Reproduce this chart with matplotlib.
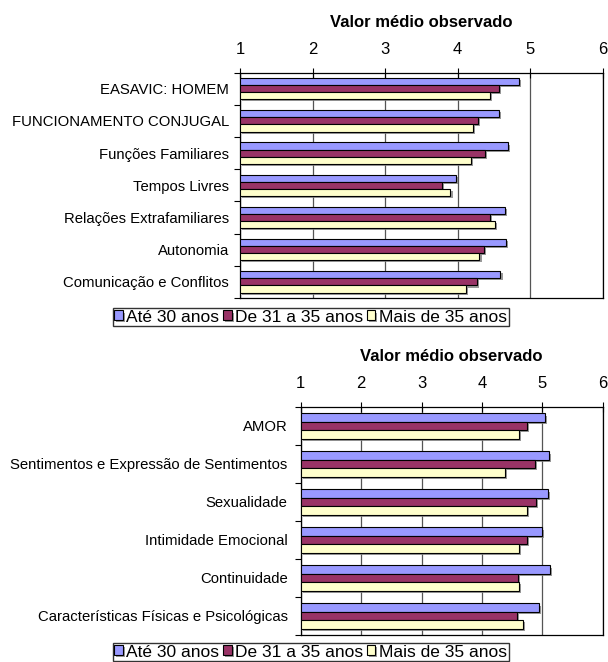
import numpy as np
import matplotlib
matplotlib.use("Agg")
import matplotlib.pyplot as plt
import matplotlib.patheffects as pe

plt.rcParams['font.family'] = ['Liberation Sans', 'DejaVu Sans']

series = ["Até 30 anos", "De 31 a 35 anos", "Mais de 35 anos"]
colors = ["#9999FF", "#993366", "#FFFFCC"]

cats_top = ["EASAVIC: HOMEM", "FUNCIONAMENTO CONJUGAL", "Funções Familiares",
            "Tempos Livres", "Relações Extrafamiliares", "Autonomia",
            "Comunicação e Conflitos"]
ate30_top = [4.85, 4.57, 4.69, 3.97, 4.65, 4.67, 4.59]
de31_top = [4.57, 4.28, 4.37, 3.78, 4.44, 4.36, 4.26]
mais35_top = [4.45, 4.21, 4.18, 3.90, 4.51, 4.30, 4.11]

cats_bot = ["AMOR", "Sentimentos e Expressão de Sentimentos", "Sexualidade",
            "Intimidade Emocional", "Continuidade",
            "Características Físicas e Psicológicas"]
ate30_bot = [5.04, 5.11, 5.09, 5.00, 5.13, 4.94]
de31_bot = [4.75, 4.88, 4.90, 4.75, 4.59, 4.58]
mais35_bot = [4.62, 4.38, 4.75, 4.61, 4.61, 4.68]

xticks = [1, 2, 3, 4, 5, 6]


def draw(ax, cats, vals, leg_y, ypad, tpad):
    n = len(cats)
    y = np.arange(n)
    h = 0.22
    shadow = [pe.SimplePatchShadow(offset=(1.5, -1.5), shadow_rgbFace="#808080", alpha=0.8),
              pe.Normal()]
    for i, (v, c) in enumerate(zip(vals, colors)):
        bars = ax.barh(y + (i - 1) * h, np.array(v) - 1, left=1, height=h,
                       color=c, edgecolor="black", linewidth=0.8,
                       label=series[i], zorder=3)
        for b in bars:
            b.set_path_effects(shadow)
    ax.set_xlim(1, 6)
    ax.set_ylim(n - 0.5, -0.5)
    ax.set_xticks(xticks)
    ax.xaxis.tick_top()
    ax.xaxis.set_label_position('top')
    ax.set_xlabel("Valor médio observado", fontsize=12, fontweight="bold", labelpad=tpad)
    ax.tick_params(axis='x', direction='inout', length=7, width=0.8, pad=8, labelsize=12)
    ax.set_yticks(y)
    ax.set_yticklabels(cats, fontsize=10.7)
    ax.set_yticks(np.arange(n + 1) - 0.5, minor=True)
    ax.tick_params(axis='y', which='major', length=0, pad=ypad)
    ax.tick_params(axis='y', which='minor', length=4, width=0.8, direction='out')
    ax.grid(axis='x', color="#555555", linewidth=0.9, zorder=0)
    for s in ax.spines.values():
        s.set_linewidth(0.9)
    hs, ls = ax.get_legend_handles_labels()
    ax.legend(hs, ls, loc="center", bbox_to_anchor=(0.5107, leg_y),
              bbox_transform=fig.transFigure, ncol=3,
              fontsize=12.5, frameon=True, fancybox=False, edgecolor="black",
              handlelength=0.5, handleheight=0.5, handletextpad=0.2,
              columnspacing=0.2, borderpad=0.1, borderaxespad=0)


fig = plt.figure(figsize=(6.08, 6.62), dpi=100)
ax1 = fig.add_axes([0.3952, 0.5498, 0.596, 0.3406])
draw(ax1, cats_top, [ate30_top, de31_top, mais35_top], 0.521, 8, 10.5)
ax2 = fig.add_axes([0.4946, 0.0408, 0.4967, 0.3444])
draw(ax2, cats_bot, [ate30_bot, de31_bot, mais35_bot], 0.0151, 9.5, 11)

fig.savefig("out.png", dpi=100)
